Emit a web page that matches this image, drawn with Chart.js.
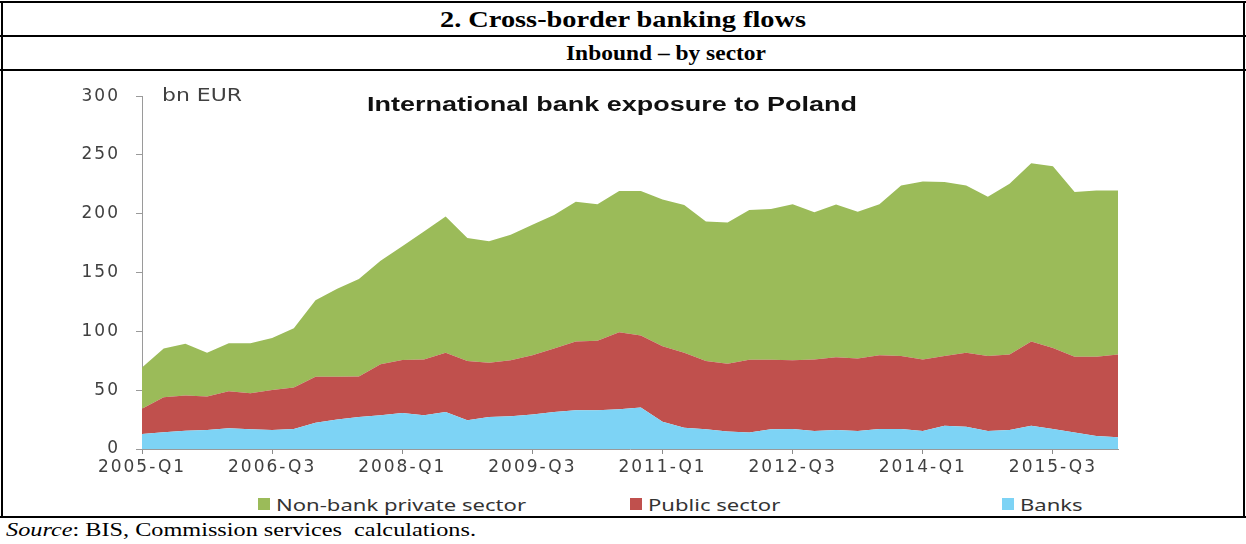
<!DOCTYPE html>
<html>
<head>
<meta charset="utf-8">
<script src="https://cdn.jsdelivr.net/npm/chart.js@4.4.1/dist/chart.umd.min.js"></script>
<style>
  html, body { margin:0; padding:0; background:#fff; }
  #page { position:relative; width:1246px; height:544px; overflow:hidden; background:#fff; }
  .rule { position:absolute; background:#000; }
  .txt { position:absolute; white-space:nowrap; line-height:1; transform-origin:0 50%; }
  .head { font-family:"Liberation Serif", serif; font-weight:bold; color:#000; }
  .sw { position:absolute; width:12px; height:12px; }
  #wrap { position:absolute; left:0; top:70px; width:1246px; height:420px; }
</style>
</head>
<body>
<div id="page">
  <!-- cadre du tableau -->
  <div class="rule" style="left:0;top:1px;width:1246px;height:2px"></div>
  <div class="rule" style="left:0;top:35px;width:1246px;height:2px"></div>
  <div class="rule" style="left:0;top:69px;width:1246px;height:2px"></div>
  <div class="rule" style="left:0;top:516px;width:1246px;height:2px"></div>
  <div class="rule" style="left:1px;top:1px;width:2px;height:517px"></div>
  <div class="rule" style="left:1243px;top:1px;width:2px;height:517px"></div>

  <span class="txt head" id="h1" style="font-size:24px">2. Cross-border banking flows</span>
  <span class="txt head" id="h2" style="font-size:21px">Inbound – by sector</span>

  <div id="wrap"><canvas id="chartPL"></canvas></div>

  <span class="txt" id="unit" style="font:17px 'DejaVu Sans';color:#404040">bn EUR</span>
  <span class="txt" id="ttl" style="font:bold 20px 'Liberation Sans';color:#111">International bank exposure to Poland</span>

  <div id="legend"></div>

  <span class="txt" id="src" style="font:19px 'Liberation Serif';color:#000"><i>Source</i>: BIS, Commission services &nbsp;calculations.</span>
</div>

<script>
// === Data ==========================================================
const years = [2005,2006,2007,2008,2009,2010,2011,2012,2013,2014,2015,2016];
const labels = [];
years.forEach(y => [1,2,3,4].forEach(q => { if (labels.length < 46) labels.push(y + '-Q' + q); }));

const tickLabels = ['2005-Q1','2006-Q3','2008-Q1','2009-Q3','2011-Q1','2012-Q3','2014-Q1','2015-Q3'];

// bn EUR
const banks   = [12.8,14.2,15.6,16.2,17.6,16.8,16.2,17.0,22.3,25.1,27.3,28.7,30.7,28.7,31.5,24.5,27.3,27.9,29.3,31.5,32.9,32.9,33.8,35.2,23.1,18.1,16.8,14.8,14.0,16.8,17.0,15.3,16.2,15.3,17.0,17.0,15.3,19.8,18.9,15.3,16.2,19.8,17.0,14.0,11.1,10.0];
const publicS = [21.5,29.8,29.9,28.4,31.5,30.6,34.0,35.4,39.1,36.3,34.4,43.3,44.9,47.5,50.3,50.3,46.1,47.5,50.5,53.9,58.6,59.2,65.5,61.4,64.3,63.7,58.0,57.7,61.9,59.1,58.4,60.9,61.9,61.7,62.8,62.0,60.9,59.2,62.9,63.7,64.2,71.7,68.9,64.4,67.3,70.4];
const nonbank = [34.9,41.4,44.1,37.2,40.8,42.5,44.1,50.3,65.1,74.8,82.9,88.0,96.9,108.8,115.8,104.7,103.3,106.8,110.8,113.6,118.7,116.1,120.1,122.8,124.7,125.6,118.7,120.1,127.3,128.1,132.8,125.1,129.9,124.8,128.4,145.1,151.3,148.0,142.3,135.4,145.1,151.4,154.5,140.2,141.5,139.5];

const seriesNames  = ['Banks','Public sector','Non-bank private sector'];
const seriesColors = ['#7DD3F5','#C0504D','#9BBB59'];

// === Text helpers ==================================================
// squeeze / stretch a label to a target width (the source picture is stretched)
function place(el, left, cy, width){
  el.style.left = left + 'px';
  el.style.top = cy + 'px';
  const w = el.getBoundingClientRect().width;
  const s = width ? width / w : 1;
  el.style.transform = 'translateY(-50%) scaleX(' + s + ')';
  return s;
}
place(document.getElementById('h1'), 440, 19, 366);
place(document.getElementById('h2'), 566, 53, 200);
place(document.getElementById('unit'), 162, 95, 80);
place(document.getElementById('ttl'), 367, 104, 490);
place(document.getElementById('src'), 6, 530, 470);

// legend (Excel order: top series first)
const legendX = [258, 630, 1002];
const legend = document.getElementById('legend');
let legScale = null;
[2,1,0].forEach((k, n) => {
  const sw = document.createElement('div');
  sw.className = 'sw';
  sw.style.background = seriesColors[k];
  sw.style.left = legendX[n] + 'px';
  sw.style.top = (504 - 6) + 'px';
  legend.appendChild(sw);
  const t = document.createElement('span');
  t.className = 'txt';
  t.style.font = "17px 'Noto Sans'";
  t.style.color = '#333';
  t.textContent = seriesNames[k];
  legend.appendChild(t);
  if (legScale === null) legScale = place(t, legendX[n] + 18, 504, 250);
  else {
    t.style.left = (legendX[n] + 18) + 'px';
    t.style.top = '504px';
    t.style.transform = 'translateY(-50%) scaleX(' + legScale + ')';
  }
});

// === Chart =========================================================
const spacing = {
  id:'spacing',
  beforeDraw(chart){ if ('letterSpacing' in chart.ctx) chart.ctx.letterSpacing = '2px'; }
};

const tickFont = { family:'DejaVu Sans', size:17 };

new Chart(document.getElementById('chartPL'), {
  type:'line',
  data:{
    labels,
    datasets:[banks, publicS, nonbank].map((d, k) => ({
      label: seriesNames[k],
      data: d,
      backgroundColor: seriesColors[k],
      borderColor: seriesColors[k],
      borderWidth: 0,
      pointRadius: 0,
      tension: 0,
      fill: k === 0 ? 'origin' : '-1'
    }))
  },
  options:{
    responsive:true,
    maintainAspectRatio:false,
    animation:false,
    layout:{ padding:{ left:0, right:128, top:21, bottom:0 } },
    plugins:{ legend:{ display:false }, tooltip:{ enabled:false } },
    scales:{
      x:{
        offset:false,
        grid:{
          display:true, drawOnChartArea:false, drawTicks:true, tickLength:5,
          tickColor: c => (tickLabels.includes(labels[c.index]) ? '#8c8c8c' : 'rgba(0,0,0,0)')
        },
        border:{ display:true, color:'#9a9a9a', width:1 },
        ticks:{
          autoSkip:false, maxRotation:0, minRotation:0, padding:3,
          color:'#404040', font:tickFont,
          callback:(v, i) => (tickLabels.includes(labels[i]) ? labels[i] : '')
        },
        afterFit:s => { s.height = 41; }
      },
      y:{
        stacked:true, min:0, max:300,
        grid:{ display:true, drawOnChartArea:false, tickLength:6, tickColor:'#9a9a9a' },
        border:{ display:true, color:'#9a9a9a', width:1 },
        ticks:{ stepSize:50, padding:16, color:'#404040', font:{ family:'DejaVu Sans', size:17 } },
        afterFit:s => { s.width = 142; }
      }
    }
  },
  plugins:[spacing]
});
</script>
</body>
</html>
